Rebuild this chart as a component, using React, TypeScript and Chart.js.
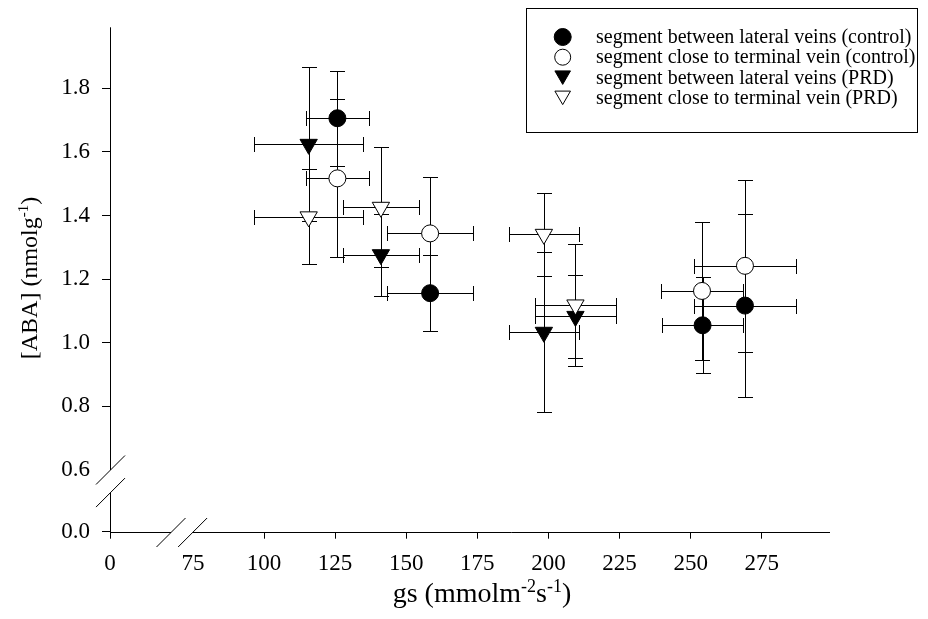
import React, { useEffect, useRef } from 'react';
import { Chart, registerables } from 'chart.js';

Chart.register(...registerables);

// ---------- data ----------
const seriesLabels = [
  'segment between lateral veins (control)',
  'segment close to terminal vein (control)',
  'segment between lateral veins (PRD)',
  'segment close to terminal vein (PRD)',
];

const lateralControlX = [125.8, 158.4, 254.2, 269.1];
const lateralControlXErr = [11.1, 15.2, 14.3, 17.9];
const lateralControlY = [1.706, 1.156, 1.055, 1.117];
const lateralControlYErr = [0.149, 0.12, 0.151, 0.288];

const terminalControlX = [125.8, 158.4, 254.0, 269.1];
const terminalControlXErr = [11.1, 15.2, 14.3, 17.9];
const terminalControlY = [1.517, 1.344, 1.163, 1.242];
const terminalControlYErr = [0.248, 0.178, 0.218, 0.27];

const lateralPrdX = [115.7, 141.1, 198.4, 209.5];
const lateralPrdXErr = [19.2, 13.5, 12.4, 14.2];
const lateralPrdY = [1.624, 1.277, 1.033, 1.083];
const lateralPrdYErr = [0.242, 0.129, 0.251, 0.13];

const terminalPrdX = [115.7, 141.1, 198.4, 209.5];
const terminalPrdXErr = [19.2, 13.5, 12.4, 14.2];
const terminalPrdY = [1.396, 1.426, 1.341, 1.119];
const terminalPrdYErr = [0.149, 0.189, 0.131, 0.191];

const xTickValues = [0, 75, 100, 125, 150, 175, 200, 225, 250, 275];
const xTickLabels = ['0', '75', '100', '125', '150', '175', '200', '225', '250', '275'];
const yTickValues = [0, 0.6, 0.8, 1.0, 1.2, 1.4, 1.6, 1.8];
const yTickLabels = ['0.0', '0.6', '0.8', '1.0', '1.2', '1.4', '1.6', '1.8'];

// broken axes: the "0" label sits at these scale values
const X_ORIGIN = 45.85;
const X_MAX = 299;
const Y_ORIGIN = 0.406;
const Y_MAX = 1.992;
const X_BREAK = [67.3, 74.9];
const Y_BREAK = [0.529, 0.6];

const FONT = '"Liberation Serif", "Times New Roman", serif';

const mapX = (v: number) => (v === 0 ? X_ORIGIN : v);
const mapY = (v: number) => (v === 0 ? Y_ORIGIN : v);

function mk(xs: number[], ys: number[], xe: number[], ye: number[]) {
  return xs.map((x, i) => ({ x, y: ys[i], xErr: xe[i], yErr: ye[i] }));
}

function markerPath(ctx: CanvasRenderingContext2D, style: string, x: number, y: number, r: number) {
  ctx.beginPath();
  if (style === 'circle') {
    ctx.arc(x, y, r, 0, Math.PI * 2);
  } else {
    let rad = Math.PI;
    const step = (2 * Math.PI) / 3;
    ctx.moveTo(x + Math.sin(rad) * r, y - Math.cos(rad) * r);
    rad += step;
    ctx.lineTo(x + Math.sin(rad) * r, y - Math.cos(rad) * r);
    rad += step;
    ctx.lineTo(x + Math.sin(rad) * r, y - Math.cos(rad) * r);
    ctx.closePath();
  }
}

const errorBarPlugin = {
  id: 'errorBars',
  beforeDatasetsDraw(chart: any) {
    const ctx = chart.ctx as CanvasRenderingContext2D;
    const xs = chart.scales.x;
    const ys = chart.scales.y;
    const cap = 7.5;
    ctx.save();
    ctx.strokeStyle = '#000';
    ctx.lineWidth = 1;
    chart.data.datasets.forEach((ds: any) => {
      ds.data.forEach((p: any) => {
        const px = Math.round(xs.getPixelForValue(p.x)) + 0.5;
        const py = Math.round(ys.getPixelForValue(p.y)) + 0.5;
        const x1 = Math.round(xs.getPixelForValue(p.x - p.xErr)) + 0.5;
        const x2 = Math.round(xs.getPixelForValue(p.x + p.xErr)) + 0.5;
        const y1 = Math.round(ys.getPixelForValue(p.y + p.yErr)) + 0.5;
        const y2 = Math.round(ys.getPixelForValue(p.y - p.yErr)) + 0.5;
        ctx.beginPath();
        ctx.moveTo(x1, py); ctx.lineTo(x2, py);
        ctx.moveTo(x1, py - cap); ctx.lineTo(x1, py + cap);
        ctx.moveTo(x2, py - cap); ctx.lineTo(x2, py + cap);
        ctx.moveTo(px, y1); ctx.lineTo(px, y2);
        ctx.moveTo(px - cap, y1); ctx.lineTo(px + cap, y1);
        ctx.moveTo(px - cap, y2); ctx.lineTo(px + cap, y2);
        ctx.stroke();
      });
    });
    ctx.restore();
  },
};

const axesPlugin = {
  id: 'brokenAxes',
  afterDraw(chart: any) {
    const ctx = chart.ctx as CanvasRenderingContext2D;
    const xs = chart.scales.x;
    const ys = chart.scales.y;
    const area = chart.chartArea;
    const ax = Math.round(area.left) + 0.5;
    const ay = Math.round(area.bottom) + 0.5;
    const yb1 = ys.getPixelForValue(Y_BREAK[1]);
    const yb2 = ys.getPixelForValue(Y_BREAK[0]);
    const xb1 = xs.getPixelForValue(X_BREAK[0]);
    const xb2 = xs.getPixelForValue(X_BREAK[1]);
    ctx.save();
    ctx.strokeStyle = '#000';
    ctx.lineWidth = 1;
    ctx.beginPath();
    // y axis
    ctx.moveTo(ax, area.top);
    ctx.lineTo(ax, yb1);
    ctx.moveTo(ax, yb2);
    ctx.lineTo(ax, ay);
    // x axis
    ctx.moveTo(area.left, ay);
    ctx.lineTo(xb1, ay);
    ctx.moveTo(xb2, ay);
    ctx.lineTo(area.right, ay);
    ctx.stroke();
    // break marks
    const d = 14.5;
    ctx.beginPath();
    [yb1, yb2].forEach((yy) => {
      ctx.moveTo(ax - d, yy + d);
      ctx.lineTo(ax + d, yy - d);
    });
    [xb1, xb2].forEach((xx) => {
      ctx.moveTo(xx - d, ay + d);
      ctx.lineTo(xx + d, ay - d);
    });
    ctx.stroke();
    ctx.restore();
  },
};

type Seg = { t: string; sup?: boolean };
function drawRich(ctx: CanvasRenderingContext2D, segs: Seg[], cx: number, baseY: number, size: number, supSize: number, rise: number) {
  const widths = segs.map((s) => {
    ctx.font = `${s.sup ? supSize : size}px ${FONT}`;
    return ctx.measureText(s.t).width;
  });
  const total = widths.reduce((a, b) => a + b, 0);
  let x = cx - total / 2;
  ctx.textAlign = 'left';
  ctx.textBaseline = 'alphabetic';
  segs.forEach((s, i) => {
    ctx.font = `${s.sup ? supSize : size}px ${FONT}`;
    ctx.fillText(s.t, x, s.sup ? baseY - rise : baseY);
    x += widths[i];
  });
}

const titlesPlugin = {
  id: 'titles',
  afterDraw(chart: any) {
    const ctx = chart.ctx as CanvasRenderingContext2D;
    ctx.save();
    ctx.fillStyle = '#000';
    drawRich(ctx, [
      { t: 'gs (mmolm' }, { t: '-2', sup: true }, { t: 's' }, { t: '-1', sup: true }, { t: ')' },
    ], 482, 602, 28, 18, 10);
    ctx.translate(37, 278);
    ctx.rotate(-Math.PI / 2);
    drawRich(ctx, [
      { t: '[ABA] (nmolg' }, { t: '-1', sup: true }, { t: ')' },
    ], 0, 0, 24, 15, 9);
    ctx.restore();
  },
};

const legendStyles = [
  { style: 'circle', fill: '#000', r: 8.5 },
  { style: 'circle', fill: '#fff', r: 8 },
  { style: 'triangle', fill: '#000', r: 9 },
  { style: 'triangle', fill: '#fff', r: 9 },
];

const legendPlugin = {
  id: 'boxLegend',
  afterDraw(chart: any) {
    const ctx = chart.ctx as CanvasRenderingContext2D;
    ctx.save();
    ctx.strokeStyle = '#000';
    ctx.lineWidth = 1;
    ctx.strokeRect(526.5, 8.5, 391, 124);
    const rows = [37, 57.2, 77.4, 97.6];
    seriesLabels.forEach((label, i) => {
      const st = legendStyles[i];
      const my = st.style === 'triangle' ? rows[i] - 2 : rows[i];
      markerPath(ctx, st.style, 562.7, my, st.r);
      ctx.fillStyle = st.fill;
      ctx.fill();
      ctx.stroke();
      ctx.fillStyle = '#000';
      ctx.font = `20px ${FONT}`;
      ctx.textAlign = 'left';
      ctx.textBaseline = 'middle';
      ctx.fillText(label, 596, rows[i] + 1);
    });
    ctx.restore();
  },
};

export default function App() {
  const ref = useRef<HTMLCanvasElement | null>(null);

  useEffect(() => {
    if (!ref.current) return;
    const tickColor = (hidden: number) => (c: any) =>
      c.tick && Math.abs(c.tick.value - hidden) < 1e-6 ? 'rgba(0,0,0,0)' : '#000';

    const chart = new Chart(ref.current, {
      type: 'scatter',
      data: {
        datasets: [
          {
            label: seriesLabels[0],
            data: mk(lateralControlX, lateralControlY, lateralControlXErr, lateralControlYErr),
            pointStyle: 'circle', pointRadius: 8.5, pointBackgroundColor: '#000',
            pointBorderColor: '#000', pointBorderWidth: 1, order: 4,
          },
          {
            label: seriesLabels[1],
            data: mk(terminalControlX, terminalControlY, terminalControlXErr, terminalControlYErr),
            pointStyle: 'circle', pointRadius: 8.5, pointBackgroundColor: '#fff',
            pointBorderColor: '#000', pointBorderWidth: 1, order: 3,
          },
          {
            label: seriesLabels[2],
            data: mk(lateralPrdX, lateralPrdY, lateralPrdXErr, lateralPrdYErr),
            pointStyle: 'triangle', pointRotation: 180, pointRadius: 10, pointBackgroundColor: '#000',
            pointBorderColor: '#000', pointBorderWidth: 1, order: 2,
          },
          {
            label: seriesLabels[3],
            data: mk(terminalPrdX, terminalPrdY, terminalPrdXErr, terminalPrdYErr),
            pointStyle: 'triangle', pointRotation: 180, pointRadius: 10, pointBackgroundColor: '#fff',
            pointBorderColor: '#000', pointBorderWidth: 1, order: 1,
          },
        ] as any,
      },
      options: {
        animation: false,
        responsive: false,
        devicePixelRatio: 1,
        layout: { padding: { top: 27.3, right: 98, left: 0, bottom: 0 } },
        plugins: { legend: { display: false }, tooltip: { enabled: false } },
        scales: {
          x: {
            type: 'linear',
            min: X_ORIGIN,
            max: X_MAX,
            border: { display: false },
            grid: {
              drawOnChartArea: false, drawTicks: true, tickLength: 7,
              color: tickColor(75), lineWidth: 1,
            },
            ticks: {
              autoSkip: false, maxRotation: 0, padding: 11, color: '#000',
              font: { family: FONT, size: 23 },
              callback: (v: any) => {
                const i = xTickValues.findIndex((t) => Math.abs(mapX(t) - v) < 1e-6);
                return i >= 0 ? xTickLabels[i] : '';
              },
            },
            afterBuildTicks: (s: any) => { s.ticks = xTickValues.map((v) => ({ value: mapX(v) })); },
            afterFit: (s: any) => { s.height = 619 - 531.7; },
          },
          y: {
            type: 'linear',
            min: Y_ORIGIN,
            max: Y_MAX,
            border: { display: false },
            grid: {
              drawOnChartArea: false, drawTicks: true, tickLength: 8,
              color: tickColor(0.6), lineWidth: 1,
            },
            ticks: {
              autoSkip: false, padding: 12, color: '#000',
              font: { family: FONT, size: 23 },
              callback: (v: any) => {
                const i = yTickValues.findIndex((t) => Math.abs(mapY(t) - v) < 1e-6);
                return i >= 0 ? yTickLabels[i] : '';
              },
            },
            afterBuildTicks: (s: any) => { s.ticks = yTickValues.map((v) => ({ value: mapY(v) })); },
            afterFit: (s: any) => { s.width = 110; },
          },
        },
      } as any,
      plugins: [errorBarPlugin, axesPlugin, titlesPlugin, legendPlugin],
    });
    return () => chart.destroy();
  }, []);

  return (
    <div style={{ position: 'absolute', left: 0, top: 0, width: 928, height: 619, background: '#fff' }}>
      <canvas ref={ref} width={928} height={619} style={{ display: 'block' }} />
    </div>
  );
}
